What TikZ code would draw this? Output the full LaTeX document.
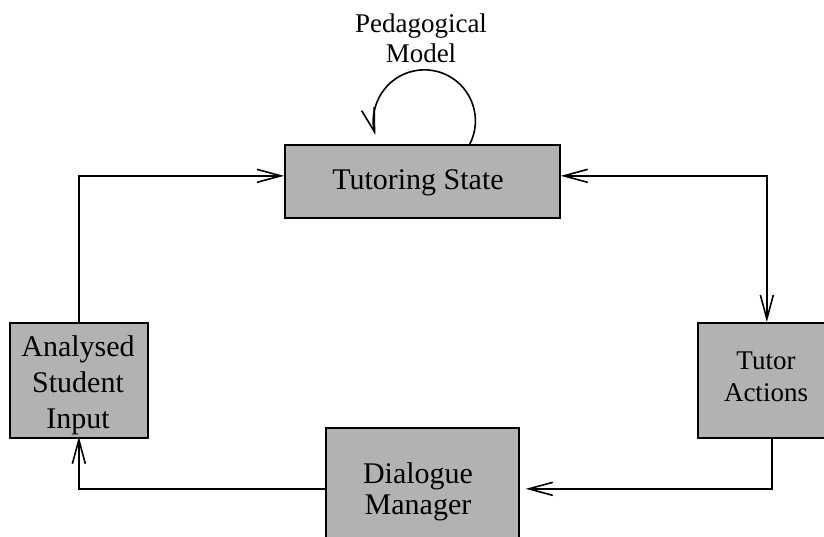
\documentclass[tikz,border=0pt]{standalone}
\usepackage{fontspec}
\setmainfont{Liberation Serif}
\usetikzlibrary{arrows.meta}
\definecolor{boxgray}{gray}{0.70}
\begin{document}
\begin{tikzpicture}[x=1pt,y=-1pt,
  box/.style={draw=black, line width=1.7pt, fill=boxgray, inner sep=0pt, anchor=north west},
  lbl/.style={inner sep=0pt, align=center, anchor=base},
  tip/.style={Straight Barb[length=24pt,width=13pt,line width=1.6pt]},
  conn/.style={line width=1.6pt, -{Straight Barb[length=24pt,width=13pt,line width=1.6pt]}},
  both/.style={line width=1.6pt, {Straight Barb[length=24pt,width=13pt,line width=1.6pt]}-{Straight Barb[length=24pt,width=13pt,line width=1.6pt]}}]
\clip (0,0) rectangle (824,537);

% boxes
\node[box, minimum width=275pt, minimum height=73pt] (ts) at (284,144) {};
\node[box, minimum width=138pt, minimum height=115pt] (asi) at (9,322) {};
\node[box, minimum width=138pt, minimum height=115pt] (ta) at (697,322) {};
\node[box, minimum width=193pt, minimum height=122pt] (dm) at (325,427) {};

% labels (anchored at the baseline of the last line)
\node[lbl, font=\fontsize{27}{30}\selectfont] (pm) at (421,63) {Pedagogical\\Model};
\node[lbl, font=\fontsize{30}{36}\selectfont] (tsl) at (418,190) {Tutoring State};
\node[lbl, font=\fontsize{30}{36}\selectfont] (asil) at (78,428) {Analysed\\Student\\Input};
\node[lbl, font=\fontsize{27}{31.5}\selectfont] (tal) at (766,401) {Tutor\\Actions};
\node[lbl, font=\fontsize{30}{31}\selectfont] (dml) at (418,514) {Dialogue\\Manager};

% connectors
\draw[conn] (asi.north) |- ([yshift=5.5pt]ts.west);
\draw[both] ([yshift=5.5pt]ts.east) -| (ta.north);
\draw[conn, shorten >=6pt] ([xshift=5pt]ta.south) |- (dm.east);
\draw[conn, shorten >=-2pt] (dm.west) -| (asi.south);
\draw[conn] ([xshift=47.5pt]ts.north) arc[start angle=27, end angle=-196, radius=51];
\end{tikzpicture}
\end{document}
